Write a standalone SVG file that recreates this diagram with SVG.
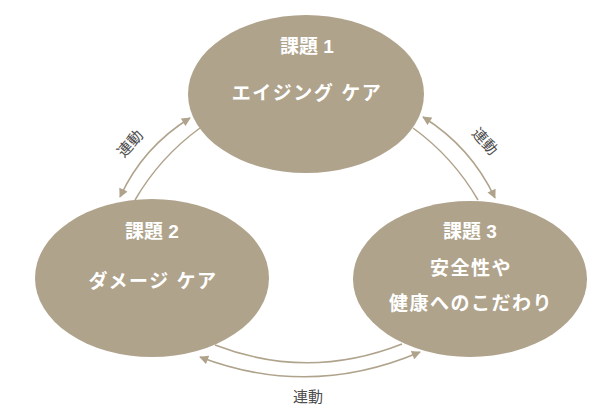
<svg xmlns="http://www.w3.org/2000/svg" width="615" height="411" viewBox="0 0 615 411">
<style>
.node{fill:#b0a38c}
.t{font-family:"Liberation Sans","Noto Sans CJK JP",sans-serif;font-weight:bold;font-size:19px;fill:#ffffff;text-anchor:middle;letter-spacing:1.5px}
.h{letter-spacing:0}
.c{fill:none;stroke:#b0a38c;stroke-width:1.5}
.lbl{font-family:"Noto Sans CJK JP","Liberation Sans",sans-serif;font-size:15px;fill:#4d4d4d;text-anchor:middle}
</style>
<defs>
<marker id="ah" viewBox="0 0 10 10" refX="9" refY="5" markerWidth="10" markerHeight="9" markerUnits="userSpaceOnUse" orient="auto-start-reverse">
<path d="M0,0 L10,5 L0,10 z" fill="#b0a38c"/>
</marker>
</defs>
<g id="connectors">
<path class="c" d="M120,197 Q143,147 190,118" marker-start="url(#ah)" marker-end="url(#ah)"/>
<path class="c" d="M135,200 Q160,157 200,128"/>
<path class="c" d="M423,117 Q471,147 495,198" marker-start="url(#ah)" marker-end="url(#ah)"/>
<path class="c" d="M413,128 Q453,157 478,200"/>
<path class="c" d="M215,345 Q308,381 402,344"/>
<path class="c" d="M200,357 Q310,399 420,352" marker-start="url(#ah)" marker-end="url(#ah)"/>
<text class="lbl" transform="translate(134,147) rotate(-48)">連動</text>
<text class="lbl" transform="translate(481,145) rotate(48)">連動</text>
<text class="lbl" x="308" y="402">連動</text>
</g>
<g id="node1">
<ellipse class="node" cx="306" cy="94" rx="118" ry="79"/>
<text class="t h" x="307" y="53">課題 1</text>
<text class="t" x="307" y="100">エイジング ケア</text>
</g>
<g id="node2">
<ellipse class="node" cx="152" cy="278" rx="117" ry="79"/>
<text class="t h" x="152" y="238">課題 2</text>
<text class="t" x="153" y="288">ダメージ ケア</text>
</g>
<g id="node3">
<ellipse class="node" cx="470" cy="279" rx="117" ry="78"/>
<text class="t h" x="470" y="238">課題 3</text>
<text class="t" x="471" y="275">安全性や</text>
<text class="t" x="471" y="310">健康へのこだわり</text>
</g>
</svg>
